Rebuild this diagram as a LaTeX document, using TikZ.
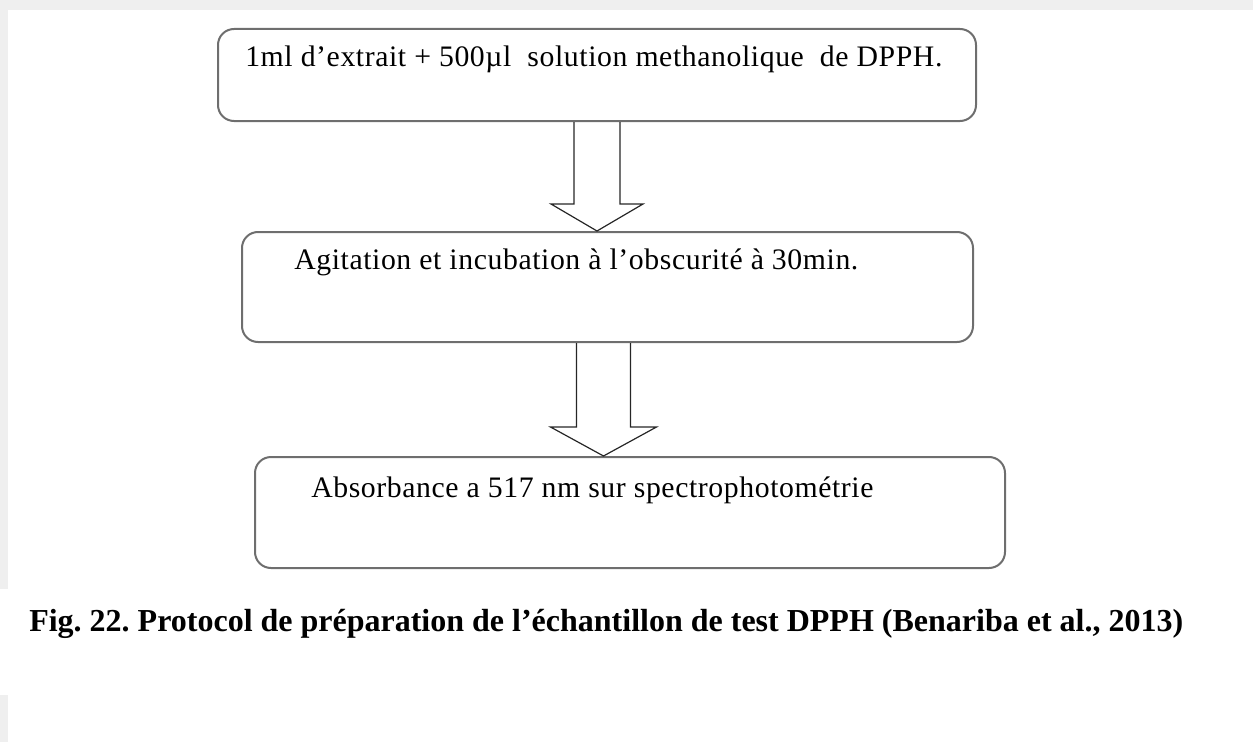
\documentclass[tikz,border=0pt]{standalone}
\usepackage{fontspec}
\setmainfont{Liberation Serif}
\newfontfamily\stepfont[LetterSpace=2]{Liberation Serif}
\usetikzlibrary{calc}
\definecolor{boxgray}{HTML}{6E6E6E}
\definecolor{stripgray}{HTML}{EFEFEF}
\frenchspacing

\begin{document}
\begin{tikzpicture}[x=0.75pt, y=-0.75pt]
    \tikzstyle{stepbox} = [rectangle, rounded corners=12pt, draw=boxgray, line width=1.5pt, inner sep=0pt]
    \tikzstyle{steptext} = [anchor=base west, inner sep=0pt, font=\stepfont\fontsize{22.3}{27}\selectfont]
    \tikzstyle{hollowarrow} = [draw=black!85, line width=0.9pt, line join=miter]
    \tikzstyle{caption} = [anchor=base west, inner sep=0pt, font=\fontsize{24}{29}\selectfont\bfseries]

    \useasboundingbox (0,0) rectangle (1253,742);
    % grey page edges
    \fill[stripgray] (0,0) rectangle (1253,10);
    \fill[stripgray] (0,0) rectangle (8,589);
    \fill[stripgray] (0,695) rectangle (8,742);

    \node[stepbox, minimum width=568.5pt, minimum height=69pt] (box1) at (597,75) {};
    \node[stepbox, minimum width=548.25pt, minimum height=82.5pt] (box2) at (607.5,287) {};
    \node[stepbox, minimum width=562.5pt, minimum height=83.25pt] (box3) at (630,512.5) {};

    \node[steptext] (txt1) at ($(box1.north west)+(28,39)$) {1ml d’extrait + 500µl\ \ solution methanolique\ \ de DPPH.};
    \node[steptext] (txt2) at ($(box2.north west)+(53,38)$) {Agitation et incubation à l’obscurité à 30min.};
    \node[steptext] (txt3) at ($(box3.north west)+(57,41)$) {Absorbance a 517 nm sur spectrophotométrie};

    % block arrows between the steps
    \coordinate (tip1) at (box1.south |- box2.north);
    \coordinate (top2) at ($(box2.south)+(-4,0)$);
    \coordinate (tip2) at (top2 |- box3.north);
    \draw[hollowarrow] ($(box1.south)+(-23,0)$) -- ($(tip1)+(-23,-27)$) -- ($(tip1)+(-46,-27)$) -- (tip1)
        -- ($(tip1)+(46,-27)$) -- ($(tip1)+(23,-27)$) -- ($(box1.south)+(23,0)$);
    \draw[hollowarrow] ($(top2)+(-27,0)$) -- ($(tip2)+(-27,-29)$) -- ($(tip2)+(-53,-29)$) -- (tip2)
        -- ($(tip2)+(53,-29)$) -- ($(tip2)+(27,-29)$) -- ($(top2)+(27,0)$);

    \node[caption] (cap) at (29,631) {Fig. 22. Protocol de préparation de l’échantillon de test DPPH (Benariba et al., 2013)};
\end{tikzpicture}
\end{document}
